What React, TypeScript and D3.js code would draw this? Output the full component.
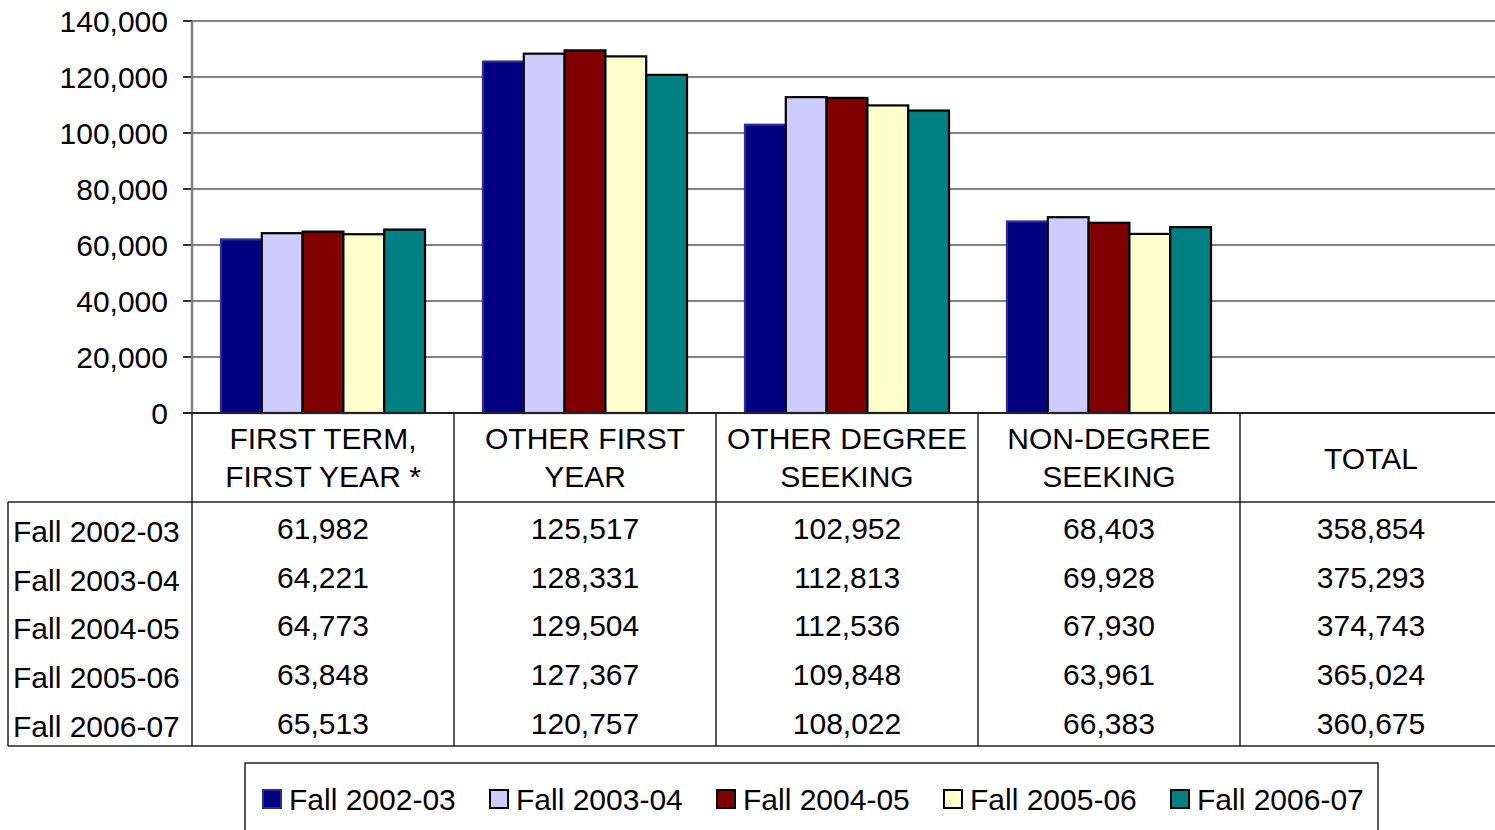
import * as d3 from 'd3'

const categories = ['FIRST TERM, FIRST YEAR *', 'OTHER FIRST YEAR', 'OTHER DEGREE SEEKING', 'NON-DEGREE SEEKING', 'TOTAL']
const categoryLines = [
  ['FIRST TERM,', 'FIRST YEAR *'],
  ['OTHER FIRST', 'YEAR'],
  ['OTHER DEGREE', 'SEEKING'],
  ['NON-DEGREE', 'SEEKING'],
  ['TOTAL'],
]
const series = ['Fall 2002-03', 'Fall 2003-04', 'Fall 2004-05', 'Fall 2005-06', 'Fall 2006-07']
const fall2002 = [61982, 125517, 102952, 68403, 358854]
const fall2003 = [64221, 128331, 112813, 69928, 375293]
const fall2004 = [64773, 129504, 112536, 67930, 374743]
const fall2005 = [63848, 127367, 109848, 63961, 365024]
const fall2006 = [65513, 120757, 108022, 66383, 360675]
const values = [fall2002, fall2003, fall2004, fall2005, fall2006]
const colors = ['#000080', '#CCCCFF', '#800000', '#FFFFCC', '#008080']
const strokes = ['#2b2b9b', '#000', '#000', '#000', '#000']
const yTicks = [0, 20000, 40000, 60000, 80000, 100000, 120000, 140000]

const W = 1495
const H = 830
const FONT = '"Liberation Sans", Arial, sans-serif'

export default function App() {
  const left = 192
  const colW = 262
  const x0 = d3.scaleBand().domain(categories).range([left, left + colW * categories.length])
  const x1 = d3.scaleBand().domain(series).range([29, 233])
  const y = d3.scaleLinear().domain([0, 140000]).range([413, 21])
  const fmt = d3.format(',')
  const headTop = 413
  const tableTop = 502
  const tableBottom = 746
  const rowBase = [539, 588, 636, 685, 734]
  const legendX = 262
  const legendStep = 227

  return (
    <svg width={W} height={H} style={{ position: 'absolute', left: 0, top: 0, background: '#fff' }}
      fontFamily={FONT}>
      {/* grid */}
      {yTicks.slice(1).map((t) => (
        <line key={t} x1={left} x2={W} y1={y(t)} y2={y(t)} stroke="#808080" strokeWidth={2} />
      ))}
      {yTicks.map((t) => (
        <g key={'t' + t}>
          <line x1={183} x2={left} y1={y(t)} y2={y(t)} stroke="#333" strokeWidth={2} />
          <text x={168} y={y(t) + 11} textAnchor="end" fontSize={30}>{fmt(t)}</text>
        </g>
      ))}
      <line x1={left} x2={left} y1={y(140000)} y2={y(0)} stroke="#808080" strokeWidth={2.5} />

      {/* bars */}
      {categories.filter((c) => c !== 'TOTAL').map((c, ci) => (
        <g key={c} transform={`translate(${x0(c)},0)`}>
          {series.map((s, si) => (
            <rect key={s} x={x1(s)} y={y(values[si][ci])} width={x1.bandwidth()}
              height={y(0) - y(values[si][ci])} fill={colors[si]} stroke={strokes[si]} strokeWidth={2.2} />
          ))}
        </g>
      ))}
      <line x1={183} x2={W} y1={y(0)} y2={y(0)} stroke="#222" strokeWidth={2} />

      {/* data table */}
      {categories.map((c) => (
        <line key={'v' + c} x1={x0(c)} x2={x0(c)} y1={headTop} y2={tableBottom} stroke="#222" strokeWidth={1.5} />
      ))}
      <line x1={8} x2={W} y1={tableTop} y2={tableTop} stroke="#222" strokeWidth={1.5} />
      <line x1={8} x2={W} y1={tableBottom} y2={tableBottom} stroke="#222" strokeWidth={1.5} />
      <line x1={8} x2={8} y1={tableTop} y2={tableBottom} stroke="#222" strokeWidth={1.5} />
      {categories.map((c, ci) => {
        const lines = categoryLines[ci]
        const cx = (x0(c) as number) + x0.bandwidth() / 2
        const base = lines.length === 1 ? 469 : 449
        return (
          <text key={'h' + c} textAnchor="middle" fontSize={30}>
            {lines.map((l, li) => (
              <tspan key={li} x={cx} y={base + li * 38}>{l}</tspan>
            ))}
          </text>
        )
      })}
      {series.map((s, si) => (
        <g key={'r' + s}>
          <text x={13} y={rowBase[si] + 3} fontSize={30}>{s}</text>
          {categories.map((c, ci) => (
            <text key={c} x={(x0(c) as number) + x0.bandwidth() / 2} y={rowBase[si]} textAnchor="middle" fontSize={30}>
              {fmt(values[si][ci])}
            </text>
          ))}
        </g>
      ))}

      {/* legend */}
      <rect x={245} y={763} width={1133} height={90} fill="none" stroke="#222" strokeWidth={1.5} />
      {series.map((s, si) => (
        <g key={'l' + s} transform={`translate(${legendX + si * legendStep},0)`}>
          <rect x={1} y={790} width={18} height={18} fill={colors[si]} stroke={strokes[si]} strokeWidth={2} />
          <text x={27} y={810} fontSize={30}>{s}</text>
        </g>
      ))}
    </svg>
  )
}
